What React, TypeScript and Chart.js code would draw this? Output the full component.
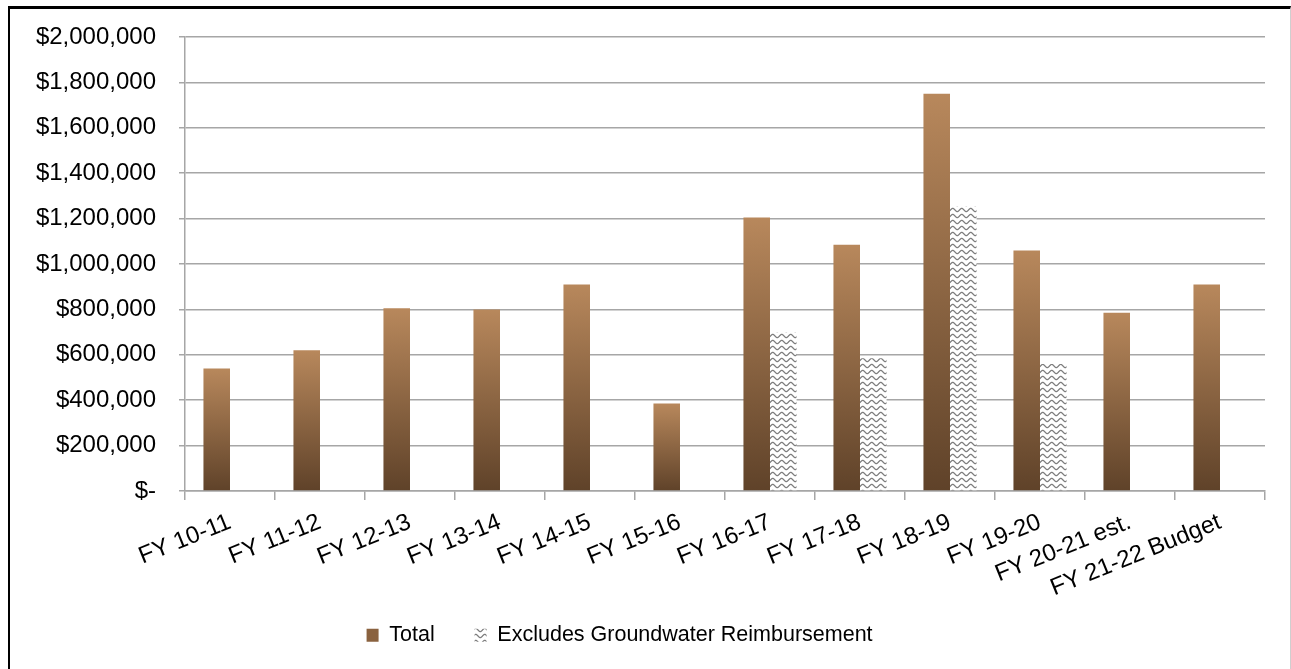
import React, { useEffect, useRef } from "react";
import { Chart, registerables } from "chart.js";

Chart.register(...registerables);

const categories = [
  "FY 10-11",
  "FY 11-12",
  "FY 12-13",
  "FY 13-14",
  "FY 14-15",
  "FY 15-16",
  "FY 16-17",
  "FY 17-18",
  "FY 18-19",
  "FY 19-20",
  "FY 20-21 est.",
  "FY 21-22 Budget",
];

const totalValues = [540000, 620000, 805000, 800000, 910000, 385000, 1205000, 1085000, 1750000, 1060000, 785000, 910000];
const excludesValues = [null, null, null, null, null, null, 700000, 585000, 1255000, 560000, null, null];

const seriesNames = ["Total", "Excludes Groundwater Reimbursement"];
const yTicks = { min: 0, max: 2000000, step: 200000 };

function makePattern(ctx: CanvasRenderingContext2D): CanvasPattern | string {
  const c = document.createElement("canvas");
  c.width = 9;
  c.height = 6;
  const p = c.getContext("2d");
  if (!p) return "#aaa";
  p.fillStyle = "#ffffff";
  p.fillRect(0, 0, 9, 6);
  p.strokeStyle = "#7e7e7e";
  p.lineWidth = 1.2;
  p.beginPath();
  for (let x = -1; x <= 10; x += 0.5) {
    const y = 3 + 1.6 * Math.sin((2 * Math.PI * x) / 9);
    if (x === -1) p.moveTo(x, y);
    else p.lineTo(x, y);
  }
  p.stroke();
  return ctx.createPattern(c, "repeat") || "#aaa";
}

export default function App() {
  const ref = useRef<HTMLCanvasElement | null>(null);

  useEffect(() => {
    const canvas = ref.current;
    if (!canvas) return;
    const ctx = canvas.getContext("2d");
    if (!ctx) return;
    const pattern = makePattern(ctx);
    const font = "'Liberation Sans', Arial, sans-serif";

    const gradientFill = (context: any) => {
      const chart = context.chart;
      const y = chart.scales && chart.scales.y;
      if (!chart.chartArea || !y) return "#8a623f";
      const v = context.raw;
      if (v == null) return "#8a623f";
      const top = y.getPixelForValue(v);
      const bottom = y.getPixelForValue(0);
      if (!isFinite(top) || !isFinite(bottom) || top === bottom) return "#8a623f";
      const g = chart.ctx.createLinearGradient(0, top, 0, bottom);
      g.addColorStop(0, "#B8885C");
      g.addColorStop(1, "#5F4229");
      return g;
    };

    const chart = new Chart(ctx, {
      type: "bar",
      data: {
        labels: categories,
        datasets: [
          {
            label: seriesNames[0],
            data: totalValues,
            backgroundColor: gradientFill,
            borderWidth: 0,
            categoryPercentage: 0.59,
            barPercentage: 1,
          },
          {
            label: seriesNames[1],
            data: excludesValues,
            backgroundColor: pattern as any,
            borderWidth: 0,
            categoryPercentage: 0.59,
            barPercentage: 1,
          },
        ],
      },
      options: {
        responsive: false,
        animation: false,
        layout: { padding: { top: 28, right: 25, bottom: 3, left: 0 } },
        plugins: {
          tooltip: { enabled: false },
          legend: {
            position: "bottom",
            labels: {
              font: { family: font, size: 21.5 },
              color: "#000",
              boxWidth: 12,
              boxHeight: 13,
              padding: 10,
              generateLabels: () => [
                {
                  text: seriesNames[0] + "     ",
                  fillStyle: "#8a623f",
                  strokeStyle: "rgba(0,0,0,0)",
                  lineWidth: 0,
                  hidden: false,
                  datasetIndex: 0,
                },
                {
                  text: seriesNames[1] + "      ",
                  fillStyle: pattern as any,
                  strokeStyle: "rgba(0,0,0,0)",
                  lineWidth: 0,
                  hidden: false,
                  datasetIndex: 1,
                },
              ],
            },
          },
        },
        scales: {
          x: {
            afterFit: (scale: any) => {
              scale.height = 123.5;
            },
            grid: {
              drawOnChartArea: false,
              drawTicks: true,
              tickLength: 9,
              color: "#a6a6a6",
              lineWidth: 1.5,
              offset: true,
            },
            border: { color: "#a6a6a6", width: 1.5 },
            ticks: {
              autoSkip: false,
              minRotation: 22,
              maxRotation: 22,
              padding: 8,
              color: "#000",
              font: { family: font, size: 24 },
            },
          },
          y: {
            min: yTicks.min,
            max: yTicks.max,
            afterFit: (scale: any) => {
              scale.width = 175;
              scale.paddingTop = 0;
              scale.paddingBottom = 0;
            },
            grid: {
              color: "#a6a6a6",
              lineWidth: 1.5,
              tickLength: 6,
            },
            border: { color: "#a6a6a6", width: 1.5 },
            ticks: {
              stepSize: yTicks.step,
              padding: 23,
              color: "#000",
              font: { family: font, size: 24 },
              callback: (v: any) => (Number(v) === 0 ? "$-" : "$" + Number(v).toLocaleString("en-US")),
            },
          },
        },
      },
    });
    return () => chart.destroy();
  }, []);

  return (
    <div
      style={{
        position: "fixed",
        left: 8,
        top: 6,
        width: 1280,
        height: 680,
        borderTop: "3px solid #000",
        borderLeft: "2px solid #000",
        borderRight: "1px solid #cfcfcf",
        background: "#fff",
      }}
    >
      <canvas ref={ref} width={1280} height={650} style={{ display: "block" }} />
    </div>
  );
}
